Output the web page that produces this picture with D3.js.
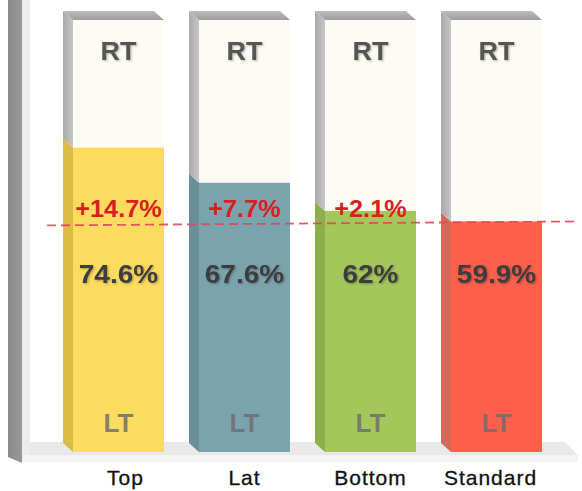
<!DOCTYPE html>
<html>
<head>
<meta charset="utf-8">
<script src="https://cdn.jsdelivr.net/npm/d3@7"></script>
<style>
  html, body { margin: 0; padding: 0; background: #ffffff; }
  svg { display: block; }
</style>
</head>
<body>
<svg id="chart" width="582" height="491"></svg>
<script>
// ---- data ----
const categories = ["Top", "Lat", "Bottom", "Standard"];
const ltValues = [74.6, 67.6, 62, 59.9];
const rtValues = [25.4, 32.4, 38, 40.1];
const valueLabels = ["74.6%", "67.6%", "62%", "59.9%"];
const diffLabels = ["+14.7%", "+7.7%", "+2.1%", ""];
const referenceValue = 59.9;

// colours
const frontColors = ["#fddb5e", "#7ba3ae", "#a4c75b", "#fe604b"];
const sideColors = ["#dcbc45", "#6a8f9a", "#8caf4b", "#d4695a"];

const svg = d3.select("#chart");

const x = d3.scaleBand().domain(categories).range([73, 542]).paddingInner(0.278).paddingOuter(0);
const y = d3.scaleLinear().domain([14, 100]).range([452, 20]);
const DX = -10, DY = -9;

const defs = svg.append("defs");
const tg = defs.append("linearGradient").attr("id", "topGrad").attr("x1", 0).attr("y1", 0).attr("x2", 0).attr("y2", 1);
tg.append("stop").attr("offset", "0%").attr("stop-color", "#bdbdbd");
tg.append("stop").attr("offset", "100%").attr("stop-color", "#9c9c9c");
const sg = defs.append("linearGradient").attr("id", "sideGrad").attr("x1", 0).attr("y1", 0).attr("x2", 1).attr("y2", 0);
sg.append("stop").attr("offset", "0%").attr("stop-color", "#a9a9a9");
sg.append("stop").attr("offset", "100%").attr("stop-color", "#c6c6c6");
const wg = defs.append("linearGradient").attr("id", "wallGrad").attr("x1", 0).attr("y1", 0).attr("x2", 1).attr("y2", 0);
wg.append("stop").attr("offset", "0%").attr("stop-color", "#8a8a8a");
wg.append("stop").attr("offset", "100%").attr("stop-color", "#9a9a9a");
const flt = defs.append("filter").attr("id", "shadow").attr("x", "-10%").attr("y", "-20%").attr("width", "130%").attr("height", "150%");
flt.append("feDropShadow").attr("dx", 1).attr("dy", 1).attr("stdDeviation", 0.8).attr("flood-color", "#000").attr("flood-opacity", 0.3);

// ---- wall and floor ----
const base = y.range()[0];
const poly = pts => pts.map(p => p.join(",")).join(" ");
svg.append("polygon")
  .attr("points", poly([[8, 0], [22, 0], [22, base + 11], [8, base + 5]]))
  .attr("fill", "url(#wallGrad)");
svg.append("rect").attr("x", 22).attr("y", 0).attr("width", 8).attr("height", base + 10).attr("fill", "#ececec");
svg.append("polygon")
  .attr("points", poly([[30, base - 10], [565, base - 10], [578, base + 3], [30, base + 3]]))
  .attr("fill", "#e9e9e9");
svg.append("rect").attr("x", 22).attr("y", base + 3).attr("width", 556).attr("height", 7).attr("fill", "#f3f3f3");

// ---- bars ----
const bars = svg.append("g").selectAll("g").data(categories).join("g");
bars.each(function (c, i) {
  const g = d3.select(this);
  const x0 = x(c), bw = x.bandwidth();
  const yL = y(ltValues[i]);
  const yT = y(ltValues[i] + rtValues[i]);
  const yB = y.range()[0];
  g.append("polygon").attr("points", poly([[x0 + DX, yL + DY], [x0, yL], [x0, yB], [x0 + DX, yB + DY]])).attr("fill", sideColors[i]);
  g.append("polygon").attr("points", poly([[x0 + DX, yT + DY], [x0, yT], [x0, yL], [x0 + DX, yL + DY]])).attr("fill", "url(#sideGrad)");
  g.append("polygon").attr("points", poly([[x0 + DX, yT + DY], [x0 + bw + DX, yT + DY], [x0 + bw, yT], [x0, yT]])).attr("fill", "url(#topGrad)");
  g.append("rect").attr("x", x0).attr("y", yT).attr("width", bw).attr("height", yL - yT).attr("fill", "#fdfcf4");
  g.append("rect").attr("x", x0).attr("y", yL).attr("width", bw).attr("height", yB - yL).attr("fill", frontColors[i]);
});

// ---- reference line ----
const yRef = y(referenceValue);
svg.append("line")
  .attr("x1", 47).attr("y1", yRef + 4).attr("x2", 578).attr("y2", yRef)
  .attr("stroke", "#dc4a5c").attr("stroke-width", 1.8).attr("stroke-dasharray", "9,5")
  .attr("opacity", 0.9);

// ---- labels ----
const font = "'Liberation Sans', Arial, Helvetica, sans-serif";
const cx = c => x(c) + x.bandwidth() / 2;

svg.append("g").selectAll("text").data(categories).join("text")
  .attr("x", c => cx(c)).attr("y", 60)
  .attr("text-anchor", "middle").attr("font-family", font).attr("font-weight", "bold")
  .attr("font-size", 25).attr("fill", "#555555").attr("filter", "url(#shadow)")
  .attr("transform", c => `translate(${cx(c)},0) scale(1.08,1) translate(${-cx(c)},0)`)
  .text("RT");

svg.append("g").selectAll("text").data(categories).join("text")
  .attr("x", c => cx(c)).attr("y", 432)
  .attr("text-anchor", "middle").attr("font-family", font).attr("font-weight", "bold")
  .attr("font-size", 26).attr("fill", "#6f6f6f").attr("fill-opacity", 0.85)
  .text("LT");

svg.append("g").selectAll("text").data(categories).join("text")
  .attr("x", c => cx(c)).attr("y", 283)
  .attr("text-anchor", "middle").attr("font-family", font).attr("font-weight", "bold")
  .attr("font-size", 25).attr("fill", "#3d3d3d").attr("filter", "url(#shadow)")
  .attr("transform", c => `translate(${cx(c)},0) scale(1.12,1) translate(${-cx(c)},0)`)
  .text((c, i) => valueLabels[i]);

svg.append("g").selectAll("text").data(categories).join("text")
  .attr("x", c => cx(c)).attr("y", 217)
  .attr("text-anchor", "middle").attr("font-family", font).attr("font-weight", "bold")
  .attr("font-size", 23).attr("fill", "#d81f1f")
  .attr("transform", c => `translate(${cx(c)},0) scale(1.1,1) translate(${-cx(c)},0)`)
  .text((c, i) => diffLabels[i]);

svg.append("g").selectAll("text").data(categories).join("text")
  .attr("x", (c, i) => cx(c) + (i === 0 ? 7 : i === 3 ? -6 : 0)).attr("y", 485)
  .attr("text-anchor", "middle").attr("font-family", font)
  .attr("font-size", 21).attr("fill", "#111111").attr("letter-spacing", 1)
  .attr("stroke", "#111").attr("stroke-width", 0.3)
  .text(c => c);
</script>
</body>
</html>
